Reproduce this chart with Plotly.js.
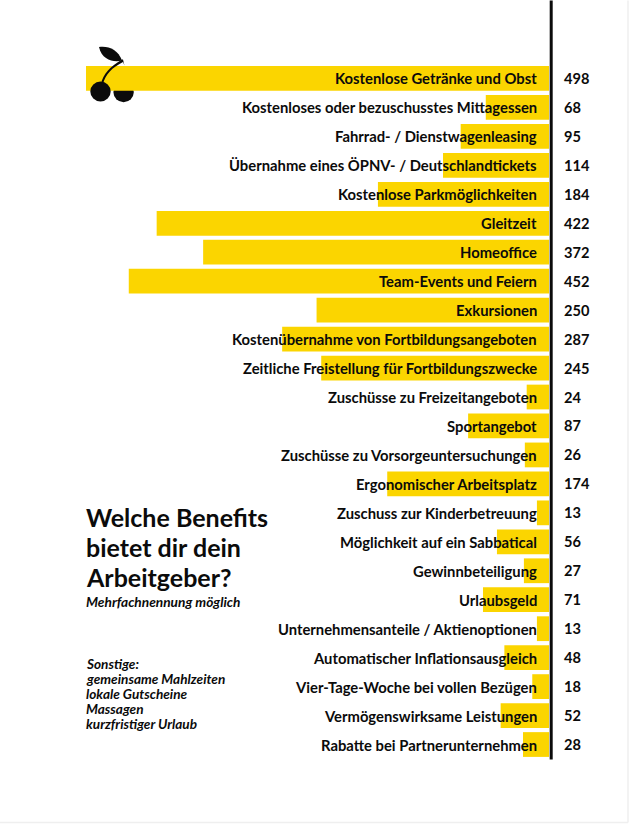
<!DOCTYPE html>
<html><head><meta charset="utf-8">
<script src="https://cdn.plot.ly/plotly-3.0.1.min.js"></script>
<style>html,body{margin:0;padding:0;background:#fff}</style></head>
<body><div id="chart" style="width:629px;height:824px"></div>
<script>
const categories = ["Kostenlose Getränke und Obst","Kostenloses oder bezuschusstes Mittagessen","Fahrrad- / Dienstwagenleasing","Übernahme eines ÖPNV- / Deutschlandtickets","Kostenlose Parkmöglichkeiten","Gleitzeit","Homeoffice","Team-Events und Feiern","Exkursionen","Kostenübernahme von Fortbildungsangeboten","Zeitliche Freistellung für Fortbildungszwecke","Zuschüsse zu Freizeitangeboten","Sportangebot","Zuschüsse zu Vorsorgeuntersuchungen","Ergonomischer Arbeitsplatz","Zuschuss zur Kinderbetreuung","Möglichkeit auf ein Sabbatical","Gewinnbeteiligung","Urlaubsgeld","Unternehmensanteile / Aktienoptionen","Automatischer Inflationsausgleich","Vier-Tage-Woche bei vollen Bezügen","Vermögenswirksame Leistungen","Rabatte bei Partnerunternehmen"];
const values = [498,68,95,114,184,422,372,452,250,287,245,24,87,26,174,13,56,27,71,13,48,18,52,28];
const titleLines = ["Welche Benefits","bietet dir dein","Arbeitgeber?"];
const subtitle = "Mehrfachnennung möglich";
const otherLines = ["Sonstige:","gemeinsame Mahlzeiten","lokale Gutscheine","Massagen","kurzfristiger Urlaub"];

const W=629,H=824,L=86,R=80,T=63.5,B=64.5;
const PW=W-L-R,PH=H-T-B;
const FONT="Lato, sans-serif", INK="#0b0b0b", YEL="#fbd500";
const px=x=>(x-L)/PW, py=y=>1-(y-T)/PH;
// convert an icon path given in page pixels to paper coordinates
function P(cmds){return cmds.map(c=>c[0]+(c.length>1?' '+c.slice(1).map((v,i)=>i%2==0?px(v):py(v)).join(' '):'')).join(' ');}
const paperText=(text,x,y,size,italic,weight)=>({xref:'paper',yref:'paper',x:px(x),y:py(y),xanchor:'left',yanchor:'middle',showarrow:false,align:'left',
  text:italic?`<i>${text}</i>`:text,font:{family:FONT,size:size,color:INK,weight:weight}});
const annotations=[];
categories.forEach((c,i)=>{
  annotations.push({xref:'x',yref:'y',x:0,y:i,xshift:-10,xanchor:'right',yanchor:'middle',showarrow:false,text:c,font:{family:FONT,size:14.8,color:INK,weight:700}});
  annotations.push({xref:'x',yref:'y',x:0,y:i,xshift:13,xanchor:'left',yanchor:'middle',showarrow:false,text:String(values[i]),font:{family:FONT,size:14.6,color:INK,weight:700}});
});
titleLines.forEach((t,i)=>annotations.push(paperText(t,84,517+i*30,25,false,700)));
annotations.push(paperText(subtitle,84,602,13.7,true,700));
otherLines.forEach((t,i)=>annotations.push(paperText(t,84,664+i*15,13.6,true,700)));

const black={color:INK,width:0};
const edge={color:'#efefef',width:1.5};
const shapes=[
 {type:'line',xref:'paper',yref:'paper',x0:px(551.2),x1:px(551.2),y0:py(0),y1:py(760),line:{color:INK,width:3},layer:'above'},
 {type:'line',xref:'paper',yref:'paper',x0:px(0),x1:px(628),y0:py(823.2),y1:py(823.2),line:edge,layer:'below'},
 {type:'line',xref:'paper',yref:'paper',x0:px(628),x1:px(628),y0:py(0),y1:py(823.2),line:edge,layer:'below'},
 {type:'circle',xref:'paper',yref:'paper',x0:px(113.4),x1:px(133.8),y0:py(81.5),y1:py(101.8),fillcolor:INK,line:black,layer:'below'},
 {type:'circle',xref:'paper',yref:'paper',x0:px(90.3),x1:px(110.7),y0:py(81),y1:py(101),fillcolor:INK,line:black,layer:'above'},
 {type:'path',xref:'paper',yref:'paper',layer:'above',fillcolor:INK,line:black,
  path:P([['M',101,83],['C',103,74,110,66,122,59],['L',123,59],['L',124.5,65],['L',123,61.5],['C',112,67,105.5,74,103,83.5],['Z']])},
 {type:'path',xref:'paper',yref:'paper',layer:'above',fillcolor:INK,line:black,
  path:P([['M',99,46.5],['C',108,45,118,49,122,60],['C',114,62,102,60,99,46.5],['Z']])}
];
const data=[{type:'bar',orientation:'h',x:values,y:categories.map((_,i)=>i),width:0.855,marker:{color:YEL,line:{width:0}},hoverinfo:'skip'}];
const layout={width:W,height:H,autosize:false,margin:{l:L,r:R,t:T,b:B,pad:0},paper_bgcolor:'#fff',plot_bgcolor:'rgba(0,0,0,0)',showlegend:false,
 xaxis:{range:[498,0],visible:false,fixedrange:true},
 yaxis:{range:[23.5,-0.5],visible:false,fixedrange:true},
 annotations,shapes};
Plotly.newPlot('chart',data,layout,{displayModeBar:false,staticPlot:true});
</script></body></html>
